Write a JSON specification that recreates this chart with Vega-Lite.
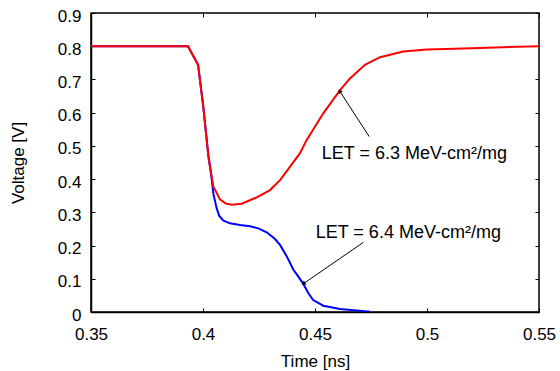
{
  "$schema": "https://vega.github.io/schema/vega-lite/v6.json",
  "width": 448,
  "height": 299,
  "autosize": "none",
  "padding": {"left": 91, "top": 13, "right": 21, "bottom": 59},
  "background": "white",
  "config": {
    "font": "Liberation Sans",
    "view": {"stroke": "black", "strokeWidth": 1.5},
    "axis": {
      "grid": false,
      "domainColor": "black",
      "domainWidth": 1.5,
      "tickColor": "black",
      "tickSize": -4,
      "tickWidth": 1,
      "labelFont": "Liberation Sans",
      "labelFontSize": 17,
      "labelColor": "black",
      "titleFont": "Liberation Sans",
      "titleFontSize": 17,
      "titleFontWeight": "normal",
      "titleColor": "black"
    }
  },
  "datasets": {
    "curves": [
      {"t": 0.35, "v": 0.8, "s": "a"},
      {"t": 0.3933, "v": 0.8, "s": "a"},
      {"t": 0.3978, "v": 0.744, "s": "a"},
      {"t": 0.4001, "v": 0.62, "s": "a"},
      {"t": 0.4024, "v": 0.47, "s": "a"},
      {"t": 0.4039, "v": 0.4, "s": "a"},
      {"t": 0.4046, "v": 0.357, "s": "a"},
      {"t": 0.4061, "v": 0.312, "s": "a"},
      {"t": 0.4072, "v": 0.29, "s": "a"},
      {"t": 0.409, "v": 0.276, "s": "a"},
      {"t": 0.412, "v": 0.267, "s": "a"},
      {"t": 0.4165, "v": 0.262, "s": "a"},
      {"t": 0.421, "v": 0.258, "s": "a"},
      {"t": 0.4250, "v": 0.251, "s": "a"},
      {"t": 0.4284, "v": 0.24, "s": "a"},
      {"t": 0.4318, "v": 0.222, "s": "a"},
      {"t": 0.4344, "v": 0.202, "s": "a"},
      {"t": 0.4375, "v": 0.166, "s": "a"},
      {"t": 0.4403, "v": 0.128, "s": "a"},
      {"t": 0.4428, "v": 0.104, "s": "a"},
      {"t": 0.4448, "v": 0.084, "s": "a"},
      {"t": 0.4472, "v": 0.055, "s": "a"},
      {"t": 0.4492, "v": 0.036, "s": "a"},
      {"t": 0.4537, "v": 0.019, "s": "a"},
      {"t": 0.4612, "v": 0.009, "s": "a"},
      {"t": 0.4746, "v": 0.001, "s": "a"},
      {"t": 0.35, "v": 0.8, "s": "b"},
      {"t": 0.3933, "v": 0.8, "s": "b"},
      {"t": 0.3978, "v": 0.744, "s": "b"},
      {"t": 0.4001, "v": 0.62, "s": "b"},
      {"t": 0.4024, "v": 0.47, "s": "b"},
      {"t": 0.4046, "v": 0.378, "s": "b"},
      {"t": 0.4076, "v": 0.339, "s": "b"},
      {"t": 0.41, "v": 0.327, "s": "b"},
      {"t": 0.4128, "v": 0.323, "s": "b"},
      {"t": 0.4173, "v": 0.326, "s": "b"},
      {"t": 0.424, "v": 0.345, "s": "b"},
      {"t": 0.4299, "v": 0.367, "s": "b"},
      {"t": 0.4344, "v": 0.397, "s": "b"},
      {"t": 0.4388, "v": 0.437, "s": "b"},
      {"t": 0.4433, "v": 0.478, "s": "b"},
      {"t": 0.4463, "v": 0.518, "s": "b"},
      {"t": 0.4537, "v": 0.598, "s": "b"},
      {"t": 0.4612, "v": 0.668, "s": "b"},
      {"t": 0.4656, "v": 0.703, "s": "b"},
      {"t": 0.4723, "v": 0.744, "s": "b"},
      {"t": 0.479, "v": 0.767, "s": "b"},
      {"t": 0.4894, "v": 0.784, "s": "b"},
      {"t": 0.5, "v": 0.79, "s": "b"},
      {"t": 0.5237, "v": 0.795, "s": "b"},
      {"t": 0.55, "v": 0.8, "s": "b"}
    ],
    "arrows": [
      {"x1": 0.4742, "y1": 0.528, "x2": 0.4612, "y2": 0.663, "ang": 327},
      {"x1": 0.4716, "y1": 0.2098, "x2": 0.4451, "y2": 0.0864, "ang": 235}
    ],
    "labels": [
      {"x": 0.453, "y": 0.46, "txt": "LET = 6.3 MeV-cm²/mg"},
      {"x": 0.4503, "y": 0.2218, "txt": "LET = 6.4 MeV-cm²/mg"}
    ]
  },
  "layer": [
    {
      "data": {"name": "curves"},
      "mark": {"type": "line", "strokeWidth": 2, "clip": true},
      "encoding": {
        "x": {"field": "t", "type": "quantitative", "scale": {"domain": [0.35, 0.55], "nice": false, "zero": false},
              "axis": {"orient": "bottom", "title": "Time [ns]", "values": [0.35, 0.4, 0.45, 0.5, 0.55], "format": "~g", "labelPadding": 18, "titlePadding": 11, "labelFlush": false}},
        "y": {"field": "v", "type": "quantitative", "scale": {"domain": [0, 0.9], "nice": false},
              "axis": {"orient": "left", "title": "Voltage [V]", "values": [0, 0.1, 0.2, 0.3, 0.4, 0.5, 0.6, 0.7, 0.8, 0.9], "format": "~g", "labelPadding": 14, "labelOffset": 3, "titlePadding": 30}},
        "color": {"field": "s", "type": "nominal", "scale": {"domain": ["a", "b"], "range": ["#0000ff", "#ff0000"]}, "legend": null},
        "order": {"field": "s"}
      }
    },
    {
      "data": {"name": "arrows"},
      "mark": {"type": "rule", "color": "black", "strokeWidth": 1},
      "encoding": {
        "x": {"field": "x1", "type": "quantitative", "axis": {"orient": "top", "labels": false, "title": null, "values": [0.35, 0.4, 0.45, 0.5, 0.55], "domain": false}},
        "y": {"field": "y1", "type": "quantitative", "axis": {"orient": "right", "labels": false, "title": null, "values": [0, 0.1, 0.2, 0.3, 0.4, 0.5, 0.6, 0.7, 0.8, 0.9], "domain": false}},
        "x2": {"field": "x2"},
        "y2": {"field": "y2"}
      }
    },
    {
      "data": {"name": "arrows"},
      "mark": {"type": "point", "shape": "triangle", "filled": true, "color": "black", "size": 22, "opacity": 1},
      "encoding": {
        "x": {"field": "x2", "type": "quantitative", "axis": null},
        "y": {"field": "y2", "type": "quantitative", "axis": null},
        "angle": {"field": "ang", "type": "quantitative", "scale": null}
      }
    },
    {
      "data": {"name": "labels"},
      "mark": {"type": "text", "align": "left", "baseline": "alphabetic", "fontSize": 18, "font": "Liberation Sans", "color": "black"},
      "encoding": {
        "x": {"field": "x", "type": "quantitative", "axis": null},
        "y": {"field": "y", "type": "quantitative", "axis": null},
        "text": {"field": "txt"}
      }
    }
  ],
  "resolve": {"axis": {"x": "independent", "y": "independent"}}
}
